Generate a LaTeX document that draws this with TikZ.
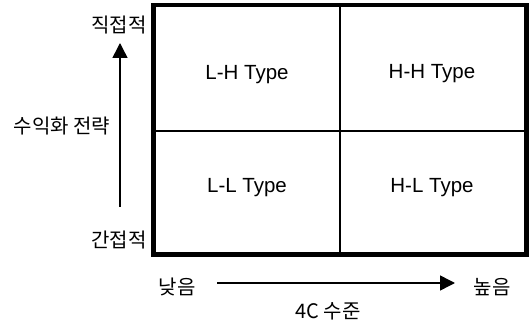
\documentclass[tikz,border=0pt]{standalone}
\usepackage{fontspec}
\setmainfont{Liberation Sans}
\newfontfamily\kr{Noto Sans CJK KR}
\usetikzlibrary{arrows.meta}
\begin{document}
\begin{tikzpicture}[x=1pt,y=1pt,
  krlabel/.style={font=\kr\fontsize{20}{23}\selectfont, inner sep=0pt},
  typelabel/.style={font=\fontsize{20.5}{24}\selectfont, inner sep=0pt},
  axisarrow/.style={line width=1.5pt, -{Triangle[length=15pt,width=15pt]}}]
\useasboundingbox (0,0) rectangle (530,324);
% quadrant box
\coordinate (bl) at (153.5,69.5);
\coordinate (tr) at (526.5,319);
\coordinate (mt) at (340,319);
\coordinate (mb) at (340,69.5);
\coordinate (ml) at (153.5,193);
\coordinate (mr) at (526.5,193);
\draw[line width=2pt] (mt) -- (mb);
\draw[line width=2pt] (ml) -- (mr);
\draw[line width=4.5pt] (bl) rectangle (tr);
% type labels
\node[typelabel] (lh) at (247,249) {L-H Type};
\node[typelabel] (hh) at (432,250) {H-H Type};
\node[typelabel] (ll) at (247,136) {L-L Type};
\node[typelabel] (hl) at (432,136) {H-L Type};
% vertical axis
\node[krlabel] (direct) at (119,299) {직접적};
\node[krlabel] (indirect) at (119,84) {간접적};
\node[krlabel] (strategy) at (62,198) {수익화 전략};
\coordinate (vstart) at (120,117);
\coordinate (vend) at (120,281);
\draw[axisarrow] (vstart) -- (vend);
% horizontal axis
\node[krlabel] (low) at (177,37) {낮음};
\node[krlabel] (high) at (492,37) {높음};
\node[krlabel] (level) at (328,13) {4C 수준};
\coordinate (hstart) at (217,41);
\coordinate (hend) at (455,41);
\draw[axisarrow] (hstart) -- (hend);
\end{tikzpicture}
\end{document}
